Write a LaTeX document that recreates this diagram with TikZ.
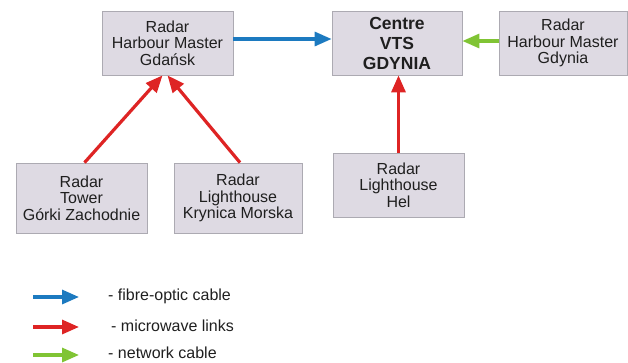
\documentclass[tikz,border=0pt]{standalone}
\usepackage{fontspec}
\setmainfont{Liberation Sans}
\usetikzlibrary{arrows.meta,calc}
\definecolor{boxfill}{RGB}{222,218,227}
\definecolor{boxline}{RGB}{172,170,178}
\definecolor{fibre}{RGB}{28,122,192}
\definecolor{micro}{RGB}{222,36,36}
\definecolor{netw}{RGB}{128,196,52}
\tikzset{
  x=1pt, y=-1pt,
  radarbox/.style={draw=boxline, line width=0.8pt, fill=boxfill, align=center,
    inner sep=0pt, font=\fontsize{16}{16.5}\selectfont, text=black!88},
  centrebox/.style={radarbox, font=\fontsize{17.5}{20}\selectfont\bfseries},
  link/.style={line width=3.2pt, -{Triangle[length=17pt,width=14pt]}},
  fibrelink/.style={link, draw=fibre, fill=fibre},
  microlink/.style={link, draw=micro, fill=micro},
  netlink/.style={link, draw=netw, fill=netw},
  legtext/.style={anchor=west, inner sep=0pt, font=\fontsize{16}{16.5}\selectfont, text=black!88}
}
\begin{document}
\begin{tikzpicture}
\useasboundingbox (0,0) rectangle (628,362);
\node[radarbox, minimum width=131pt, minimum height=64pt] (gdansk) at (167.5,43) {Radar\\Harbour Master\\Gdańsk};
\node[centrebox, minimum width=130pt, minimum height=64pt] (centre) at (397,43) {Centre\\VTS\\GDYNIA};
\node[radarbox, minimum width=128pt, minimum height=64pt] (gdynia) at (563,43) {Radar\\Harbour Master\\Gdynia};
\node[radarbox, minimum width=131pt, minimum height=70pt] (gorki) at (81.5,198) {Radar\\Tower\\Górki Zachodnie};
\node[radarbox, minimum width=128pt, minimum height=70pt] (krynica) at (238,198) {Radar\\Lighthouse\\Krynica Morska};
\node[radarbox, minimum width=131pt, minimum height=64pt] (hel) at (398.5,185) {Radar\\Lighthouse\\Hel};

\draw[fibrelink] ($(gdansk.east)+(0,-4)$) -- ($(centre.west)+(0,-4)$);
\draw[netlink] ($(gdynia.west)+(0,-2)$) -- ($(centre.east)+(0,-2)$);
\draw[microlink] ($(gorki.north)+(3,0)$) -- ($(gdansk.south)+(-5,0)$);
\draw[microlink] ($(krynica.north)+(2,0)$) -- ($(gdansk.south)+(0,0)$);
\draw[microlink] (hel.north) -- (hel.north |- centre.south);

\coordinate (l1s) at (33,297); \coordinate (l1e) at (79,297);
\coordinate (l2s) at (33,327); \coordinate (l2e) at (79,327);
\coordinate (l3s) at (33,355); \coordinate (l3e) at (79,355);
\draw[fibrelink] (l1s) -- (l1e);
\draw[microlink] (l2s) -- (l2e);
\draw[netlink] (l3s) -- (l3e);
\node[legtext] (t1) at (108,296) {- fibre-optic cable};
\node[legtext] (t2) at (111,326) {- microwave links};
\node[legtext] (t3) at (108,353) {- network cable};
\end{tikzpicture}
\end{document}
